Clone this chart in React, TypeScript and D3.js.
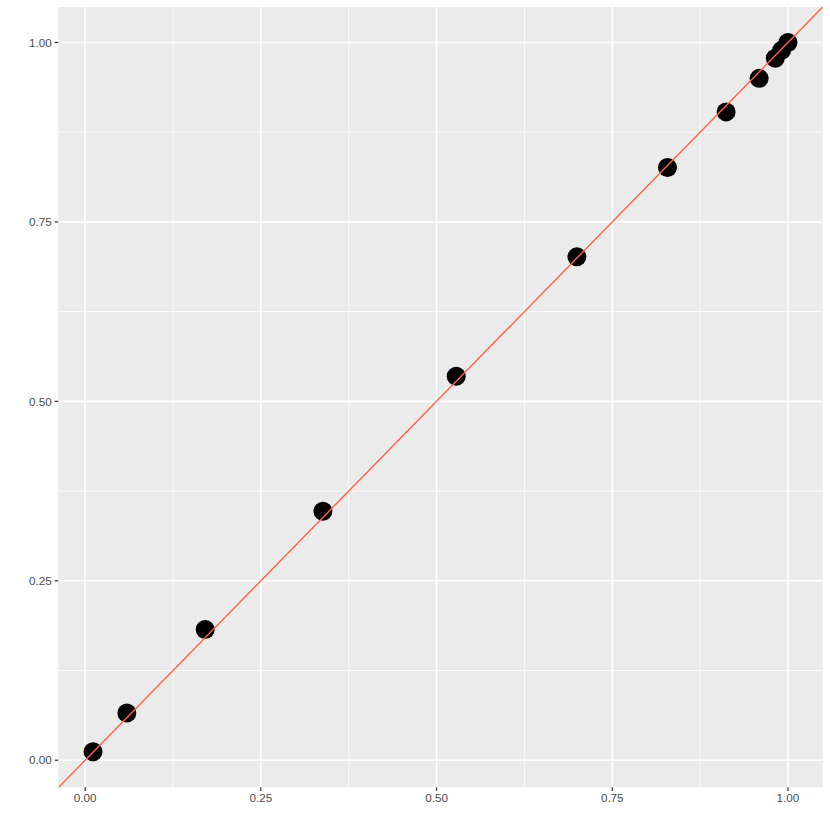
import React from "react";
import * as d3 from "d3";

const xValues = [0.0112, 0.0593, 0.1708, 0.3383, 0.528, 0.6997, 0.8286, 0.912, 0.959, 0.982, 0.991, 1.0];
const yValues = [0.0117, 0.0659, 0.1821, 0.3469, 0.535, 0.7013, 0.8258, 0.9033, 0.95, 0.978, 0.989, 1.0];
const majorTicks = [0, 0.25, 0.5, 0.75, 1.0];
const minorTicks = [0.125, 0.375, 0.625, 0.875];
const tickLabels = ["0.00", "0.25", "0.50", "0.75", "1.00"];

const W = 830;
const H = 830;
const panel = { left: 58.3, right: 822.7, top: 7, bottom: 787.3 };

function expand(vals: number[]): [number, number] {
  const mn = d3.min(vals) as number;
  const mx = d3.max(vals) as number;
  const pad = (mx - mn) * 0.05;
  return [mn - pad, mx + pad];
}

export default function App() {
  const x = d3.scaleLinear().domain(expand(xValues)).range([panel.left, panel.right]);
  const y = d3.scaleLinear().domain(expand(yValues)).range([panel.bottom, panel.top]);
  const pts = xValues.map((v, i) => ({ x: v, y: yValues[i] }));
  const [xd0, xd1] = x.domain();
  const [yd0, yd1] = y.domain();
  const lo = Math.min(xd0, yd0) - 1;
  const hi = Math.max(xd1, yd1) + 1;
  const font = "'Liberation Sans', Arial, sans-serif";
  return (
    <svg width={W} height={H} style={{ position: "absolute", left: 0, top: 0, background: "#fff" }}>
      <defs>
        <clipPath id="pclip">
          <rect x={panel.left} y={panel.top} width={panel.right - panel.left} height={panel.bottom - panel.top} />
        </clipPath>
      </defs>
      <rect x={panel.left} y={panel.top} width={panel.right - panel.left} height={panel.bottom - panel.top} fill="#EBEBEB" />
      <g clipPath="url(#pclip)">
        {minorTicks.map((t) => (
          <g key={"m" + t}>
            <line x1={x(t)} x2={x(t)} y1={panel.top} y2={panel.bottom} stroke="#fff" strokeWidth={0.8} />
            <line y1={y(t)} y2={y(t)} x1={panel.left} x2={panel.right} stroke="#fff" strokeWidth={0.8} />
          </g>
        ))}
        {majorTicks.map((t) => (
          <g key={"M" + t}>
            <line x1={x(t)} x2={x(t)} y1={panel.top} y2={panel.bottom} stroke="#fff" strokeWidth={1.6} />
            <line y1={y(t)} y2={y(t)} x1={panel.left} x2={panel.right} stroke="#fff" strokeWidth={1.6} />
          </g>
        ))}
        {pts.map((p, i) => (
          <circle key={i} cx={x(p.x)} cy={y(p.y)} r={9.5} fill="#000" />
        ))}
        <line x1={x(lo)} y1={y(lo)} x2={x(hi)} y2={y(hi)} stroke="tomato" strokeWidth={1.4} />
      </g>
      {majorTicks.map((t, i) => (
        <g key={"xt" + t}>
          <line x1={x(t)} x2={x(t)} y1={panel.bottom} y2={panel.bottom + 3.6} stroke="#333" strokeWidth={1.2} />
          <text x={x(t)} y={panel.bottom + 14.8} textAnchor="middle" fontFamily={font} fontSize={11.7} fill="#4D4D4D">
            {tickLabels[i]}
          </text>
        </g>
      ))}
      {majorTicks.map((t, i) => (
        <g key={"yt" + t}>
          <line x1={panel.left - 3.6} x2={panel.left} y1={y(t)} y2={y(t)} stroke="#333" strokeWidth={1.2} />
          <text x={panel.left - 6.5} y={y(t)} dy="0.36em" textAnchor="end" fontFamily={font} fontSize={11.7} fill="#4D4D4D">
            {tickLabels[i]}
          </text>
        </g>
      ))}
    </svg>
  );
}
